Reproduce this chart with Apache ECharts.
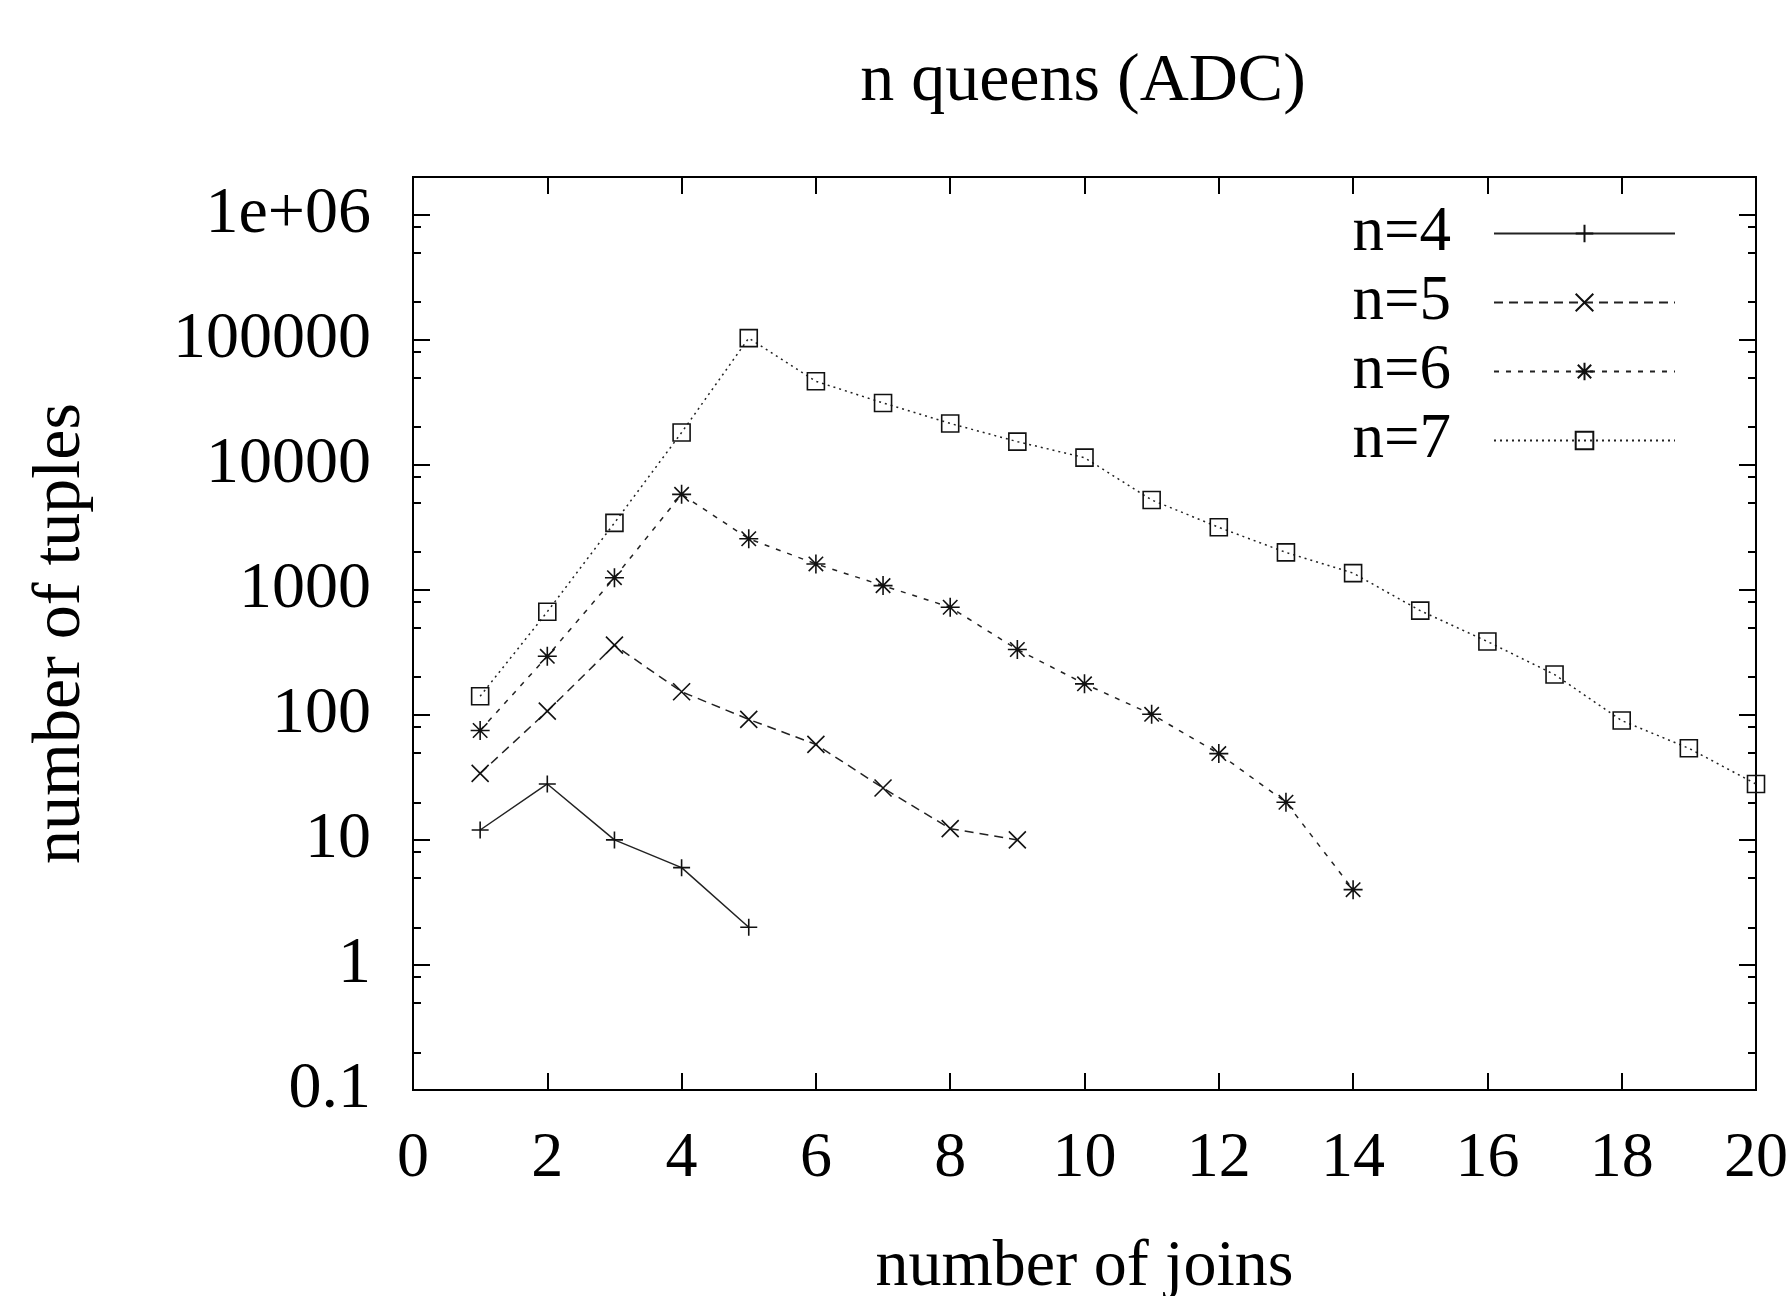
<!DOCTYPE html>
<html><head><meta charset="utf-8">
<script src="https://cdn.jsdelivr.net/npm/echarts@6/dist/echarts.min.js"></script>
<style>html,body{margin:0;padding:0;background:#fff}#c{width:1791px;height:1296px}</style>
</head><body><div id="c"></div>
<script>
// ---- data ----
const joins4 = [1, 2, 3, 4, 5];
const tuples4 = [12, 28, 10, 6, 2];
const joins5 = [1, 2, 3, 4, 5, 6, 7, 8, 9];
const tuples5 = [34, 107, 361, 153, 92, 58, 26, 12.3, 10];
const joins6 = [1, 2, 3, 4, 5, 6, 7, 8, 9, 10, 11, 12, 13, 14];
const tuples6 = [75, 294, 1250, 5800, 2560, 1610, 1080, 725, 333, 177, 101, 49, 20, 4];
const joins7 = [1, 2, 3, 4, 5, 6, 7, 8, 9, 10, 11, 12, 13, 14, 15, 16, 17, 18, 19, 20];
const tuples7 = [141, 667, 3430, 18100, 103000, 46500, 31200, 21400, 15300, 11400, 5230, 3160, 1990, 1360, 681, 386, 210, 90, 54, 28];
const seriesNames = ['n=4', 'n=5', 'n=6', 'n=7'];
const xTickValues = [0, 2, 4, 6, 8, 10, 12, 14, 16, 18, 20];
const yTickValues = [0.1, 1, 10, 100, 1000, 10000, 100000, 1000000];
const yTickLabels = ['0.1', '1', '10', '100', '1000', '10000', '100000', '1e+06'];
const yMinorValues = [0.2, 0.5, 0.8, 2, 5, 8, 20, 50, 80, 200, 500, 800, 2000, 5000, 8000,
  20000, 50000, 80000, 200000, 500000, 800000];
const titleText = 'n queens (ADC)';
const xName = 'number of joins';
const yName = 'number of tuples';

// ---- chart ----
const FONT = '"Liberation Serif", "Times New Roman", serif';
const INK = '#000';
const pairs = (xs, ys) => xs.map((x, i) => [x, ys[i]]);
const symbols = [
  'path://M0,5L10,5M5,0L5,10',
  'path://M0,0L10,10M10,0L0,10',
  'path://M5,0L5,10M0,5L10,5M1.2,1.2L8.8,8.8M8.8,1.2L1.2,8.8',
  'path://M0,0L10,0L10,10L0,10Z'
];
const symbolSizes = [17, 17, 19, 17];
const dashes = ['solid', [9, 6], [5, 7], [2, 4]];
const datasets = [pairs(joins4, tuples4), pairs(joins5, tuples5), pairs(joins6, tuples6), pairs(joins7, tuples7)];

const series = seriesNames.map((name, i) => ({
  name, type: 'line', data: datasets[i], xAxisIndex: 0, yAxisIndex: 0,
  symbol: symbols[i], symbolSize: symbolSizes[i], showAllSymbol: true, clip: false,
  lineStyle: { color: '#222', width: 1.5, type: dashes[i] },
  itemStyle: { color: 'rgba(0,0,0,0)', borderColor: '#111', borderWidth: 1.6 },
  emphasis: { disabled: true }
}));

const tickLine = { color: INK, width: 2 };
const logBase = { type: 'log', logBase: 10, min: 0.1, max: 2000000, splitLine: { show: false }, axisLine: { show: false }, minorTick: { show: false } };
const yLabelFmt = v => {
  const k = yTickValues.findIndex(t => Math.abs(Math.log10(t) - Math.log10(v)) < 1e-6);
  return k >= 0 ? yTickLabels[k] : '';
};

const option = {
  animation: false,
  backgroundColor: '#fff',
  grid: { left: 413, right: 35, top: 177, bottom: 206, outerBoundsMode: 'none', containLabel: false,
    show: true, borderColor: INK, borderWidth: 2, backgroundColor: 'transparent' },
  graphic: [{ type: 'text', x: 1083, y: 82, style: { text: titleText, textAlign: 'center', textVerticalAlign: 'middle', font: '68px ' + FONT, fill: INK } }],
  legend: {
    data: seriesNames, orient: 'vertical', right: 110, top: 197, align: 'right',
    itemWidth: 181, itemHeight: 22, itemGap: 6, selectedMode: false,
    textStyle: { fontFamily: FONT, fontSize: 63, color: INK, padding: [0, 38, 0, 0] }
  },
  xAxis: [
    { type: 'value', position: 'bottom', min: 0, max: 20, interval: 2,
      axisLine: { show: false }, splitLine: { show: false },
      axisTick: { inside: true, length: 17, lineStyle: tickLine },
      axisLabel: { margin: 37, fontFamily: FONT, fontSize: 64, color: INK, customValues: xTickValues },
      name: xName, nameLocation: 'middle', nameGap: 145,
      nameTextStyle: { fontFamily: FONT, fontSize: 66, color: INK } },
    { type: 'value', position: 'top', min: 0, max: 20, interval: 2,
      axisLine: { show: false }, splitLine: { show: false },
      axisTick: { inside: true, length: 17, lineStyle: tickLine },
      axisLabel: { show: false } }
  ],
  yAxis: [
    Object.assign({}, logBase, { position: 'left',
      axisTick: { inside: true, length: 17, lineStyle: tickLine, customValues: yTickValues },
      axisLabel: { margin: 42, fontFamily: FONT, fontSize: 66, color: INK, customValues: yTickValues, formatter: yLabelFmt },
      name: yName, nameLocation: 'middle', nameGap: 318, nameRotate: 90,
      nameTextStyle: { fontFamily: FONT, fontSize: 68, color: INK } }),
    Object.assign({}, logBase, { position: 'left',
      axisTick: { inside: true, length: 8, lineStyle: tickLine, customValues: yMinorValues },
      axisLabel: { show: false } }),
    Object.assign({}, logBase, { position: 'right',
      axisTick: { inside: true, length: 17, lineStyle: tickLine, customValues: yTickValues },
      axisLabel: { show: false } }),
    Object.assign({}, logBase, { position: 'right',
      axisTick: { inside: true, length: 8, lineStyle: tickLine, customValues: yMinorValues },
      axisLabel: { show: false } })
  ],
  series
};
const chart = echarts.init(document.getElementById('c'), null, { renderer: 'canvas' });
chart.setOption(option);
</script>
</body></html>
